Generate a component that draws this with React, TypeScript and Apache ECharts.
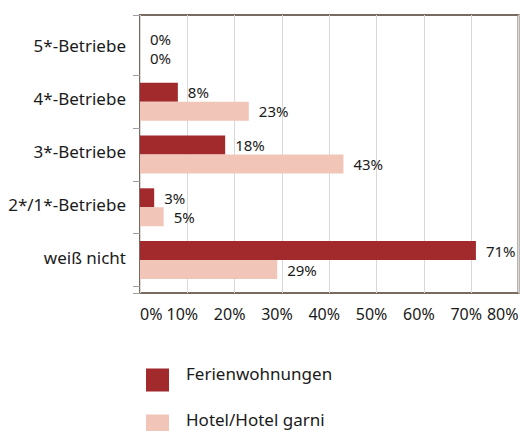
import React, { useEffect, useRef } from "react";
import * as echarts from "echarts";

const categories = ["5*-Betriebe", "4*-Betriebe", "3*-Betriebe", "2*/1*-Betriebe", "weiß nicht"];
const ferienwohnungen = [0, 8, 18, 3, 71];
const hotel = [0, 23, 43, 5, 29];
const seriesNames = ["Ferienwohnungen", "Hotel/Hotel garni"];
const xTicks = { min: 0, max: 80, interval: 10 };

const FONT = "'Noto Sans', sans-serif";
const TEXT = "#1a1a1a";
const DARK = "#a2292c";
const LIGHT = "#f2c5b9";
const FRAME = "#7a6b60";

export default function App() {
  const ref = useRef<HTMLDivElement>(null);
  useEffect(() => {
    if (!ref.current) return;
    const chart = echarts.init(ref.current, undefined, { renderer: "svg" });
    const labelStyle = { fontSize: 16, fontFamily: FONT, color: TEXT };
    const legendText = { fontSize: 17, lineHeight: 18, fontFamily: FONT, color: TEXT };
    const legendBase = {
      orient: "vertical",
      left: 141,
      itemWidth: 23,
      itemHeight: 23,
      itemGap: 22,
      icon: "rect",
      selectedMode: false,
      formatter: (name: string) => `{t|${name}}`,
      textStyle: { ...legendText, rich: { t: { ...legendText, padding: [0, 0, 13, 12] } } },
    };
    const valueLabel = { show: true, position: "right", distance: 10, formatter: "{c}%", fontSize: 15, fontFamily: FONT, color: TEXT };
    const catText = { fontSize: 17, lineHeight: 20, fontFamily: FONT, color: TEXT };
    chart.setOption({
      animation: false,
      backgroundColor: "#ffffff",
      legend: [
        { ...legendBase, top: 360, data: [seriesNames[0]] },
        { ...legendBase, top: 406, data: [seriesNames[1]] },
      ],
      grid: [
        { left: 140, right: 5.5, top: 15, bottom: 138, show: true, borderColor: FRAME, borderWidth: 2, backgroundColor: "transparent" },
        { left: 140, right: 5.5, top: 22.5, bottom: 144.5 },
      ],
      xAxis: [
        {
          type: "value",
          gridIndex: 0,
          min: xTicks.min,
          max: xTicks.max,
          interval: xTicks.interval,
          axisLine: { show: false },
          axisTick: { show: false },
          splitLine: { show: true, lineStyle: { color: "#d9d9d9", width: 1 } },
          axisLabel: {
            margin: 13,
            alignMinLabel: "left",
            alignMaxLabel: "right",
            ...labelStyle,
            formatter: (v: number) => (v === xTicks.min || v === xTicks.max ? `{a|${v}%}` : `{m|${v}%}`),
            rich: {
              a: { ...labelStyle },
              m: { ...labelStyle, padding: [0, 10, 0, 0] },
            },
          },
        },
        {
          type: "value",
          gridIndex: 1,
          min: xTicks.min,
          max: xTicks.max,
          interval: xTicks.interval,
          show: false,
          splitLine: { show: false },
        },
      ],
      yAxis: [
        {
          type: "category",
          gridIndex: 0,
          data: [""],
          axisLine: { show: false },
          axisLabel: { show: false },
          axisTick: { show: true, length: 7, lineStyle: { color: "#a0a0a0" } },
        },
        {
          type: "category",
          gridIndex: 1,
          inverse: true,
          data: categories,
          axisLine: { show: false },
          axisTick: { show: true, length: 7, lineStyle: { color: "#a0a0a0" }, interval: (i: number) => i !== 0 },
          axisLabel: {
            margin: 14,
            ...catText,
            formatter: (v: string) => `{c|${v}}`,
            rich: { c: { ...catText, padding: [0, 0, 6, 0] } },
          },
        },
      ],
      series: [
        {
          name: seriesNames[0],
          type: "bar",
          xAxisIndex: 1,
          yAxisIndex: 1,
          data: ferienwohnungen,
          barWidth: 19,
          barGap: "0%",
          itemStyle: { color: DARK },
          label: valueLabel,
        },
        {
          name: seriesNames[1],
          type: "bar",
          xAxisIndex: 1,
          yAxisIndex: 1,
          data: hotel,
          barWidth: 19,
          barGap: "0%",
          itemStyle: { color: LIGHT },
          label: valueLabel,
        },
      ],
    });
    return () => chart.dispose();
  }, []);
  return <div ref={ref} style={{ position: "absolute", left: 0, top: 0, width: 524, height: 431 }} />;
}
